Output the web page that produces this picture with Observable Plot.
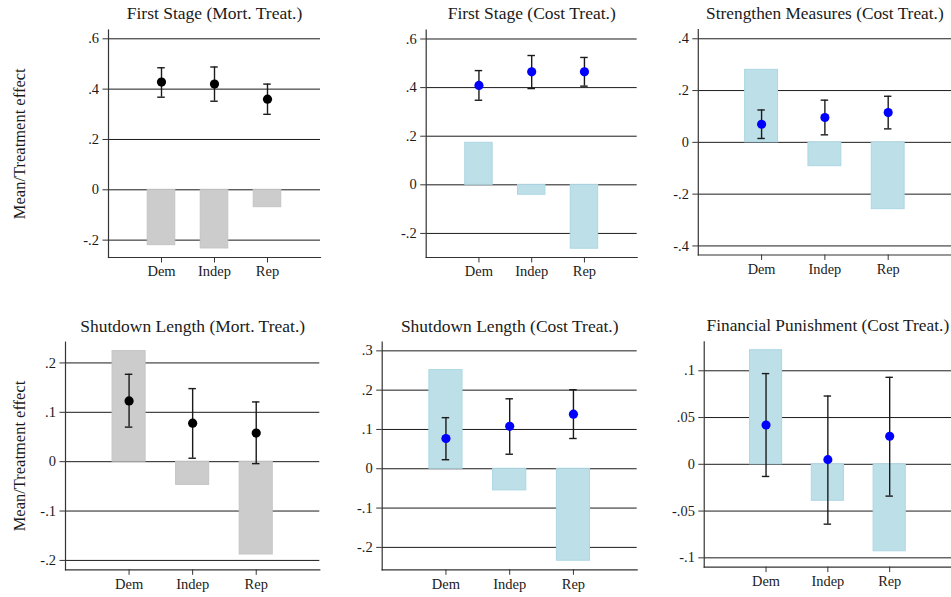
<!DOCTYPE html>
<html><head><meta charset="utf-8">
<script src="https://cdn.jsdelivr.net/npm/d3@7"></script>
<script src="https://cdn.jsdelivr.net/npm/@observablehq/plot@0.6"></script>
<style>
html,body{margin:0;padding:0;background:#fff;width:951px;height:597px;overflow:hidden;}
#root{position:relative;width:951px;height:597px;overflow:hidden;}
.panel{position:absolute;}
.panel svg text{font-family:'Liberation Serif','Times New Roman',Times,serif;}
</style></head><body><div id="root"></div>
<script>
// ---- data ----
const parties = ["Dem", "Indep", "Rep"];
const panelTitles = [
  "First Stage (Mort. Treat.)", "First Stage (Cost Treat.)", "Strengthen Measures (Cost Treat.)",
  "Shutdown Length (Mort. Treat.)", "Shutdown Length (Cost Treat.)", "Financial Punishment (Cost Treat.)"
];
const yTitle = "Mean/Treatment effect";

const fsMortBars  = [-0.220, -0.233, -0.069];
const fsMortMeans = [0.428, 0.420, 0.360];
const fsMortLo    = [0.368, 0.352, 0.300];
const fsMortHi    = [0.485, 0.488, 0.420];

const fsCostBars  = [0.173, -0.041, -0.263];
const fsCostMeans = [0.409, 0.465, 0.465];
const fsCostLo    = [0.348, 0.396, 0.406];
const fsCostHi    = [0.470, 0.532, 0.524];

const smCostBars  = [0.280, -0.092, -0.258];
const smCostMeans = [0.070, 0.096, 0.115];
const smCostLo    = [0.015, 0.029, 0.052];
const smCostHi    = [0.125, 0.163, 0.178];

const slMortBars  = [0.224, -0.047, -0.188];
const slMortMeans = [0.123, 0.078, 0.058];
const slMortLo    = [0.070, 0.007, -0.004];
const slMortHi    = [0.177, 0.148, 0.121];

const slCostBars  = [0.251, -0.055, -0.234];
const slCostMeans = [0.077, 0.108, 0.139];
const slCostLo    = [0.023, 0.037, 0.077];
const slCostHi    = [0.130, 0.178, 0.201];

const fpCostBars  = [0.122, -0.039, -0.093];
const fpCostMeans = [0.042, 0.005, 0.030];
const fpCostLo    = [-0.013, -0.064, -0.034];
const fpCostHi    = [0.097, 0.073, 0.093];

const ticksFS  = [-0.2, 0, 0.2, 0.4, 0.6];
const ticksSM  = [-0.4, -0.2, 0, 0.2, 0.4];
const ticksSLM = [-0.2, -0.1, 0, 0.1, 0.2];
const ticksSLC = [-0.2, -0.1, 0, 0.1, 0.2, 0.3];
const ticksFP  = [-0.1, -0.05, 0, 0.05, 0.1];

// ---- styling / layout ----
const FONT = "Liberation Serif, Times New Roman, Times, serif";
const grayBar = {fill: "#cccccc", stroke: "#c4c4c4"};
const blueBar = {fill: "#bddfe8", stroke: "#acd7e4"};

const panels = [
  {title: panelTitles[0], bars: fsMortBars, means: fsMortMeans, lo: fsMortLo, hi: fsMortHi, ticks: ticksFS,
   yDomain: [-0.269, 0.635], box: [108, 320, 29.5, 257], origin: [0, 0], dot: "#000000", bar: grayBar, ylab: true},
  {title: panelTitles[1], bars: fsCostBars, means: fsCostMeans, lo: fsCostLo, hi: fsCostHi, ticks: ticksFS,
   yDomain: [-0.299, 0.637], box: [425.7, 636.7, 29.5, 257], origin: [330, 0], dot: "#0000ff", bar: blueBar},
  {title: panelTitles[2], bars: smCostBars, means: smCostMeans, lo: smCostLo, hi: smCostHi, ticks: ticksSM,
   yDomain: [-0.435, 0.435], box: [698.3, 954, 29.5, 257], origin: [645, 0], dot: "#0000ff", bar: blueBar},
  {title: panelTitles[3], bars: slMortBars, means: slMortMeans, lo: slMortLo, hi: slMortHi, ticks: ticksSLM,
   yDomain: [-0.219, 0.242], box: [65, 319.3, 341.7, 569.3], origin: [0, 300], dot: "#000000", bar: grayBar, ylab: true},
  {title: panelTitles[4], bars: slCostBars, means: slCostMeans, lo: slCostLo, hi: slCostHi, ticks: ticksSLC,
   yDomain: [-0.257, 0.322], box: [381.7, 636.7, 341.7, 569.3], origin: [330, 300], dot: "#0000ff", bar: blueBar},
  {title: panelTitles[5], bars: fpCostBars, means: fpCostMeans, lo: fpCostLo, hi: fpCostHi, ticks: ticksFP,
   yDomain: [-0.110, 0.131], box: [704.3, 954, 341.7, 569.3], origin: [645, 300], dot: "#0000ff", bar: blueBar}
];

const stataFmt = d => d === 0 ? "0" : String(+d.toFixed(3)).replace(/^(-?)0\./, "$1.");
const INK = "#1a1a1a";
const root = document.getElementById("root");

for (const p of panels) {
  const [x0, x1, y0, y1] = p.box;
  const [ox, oy] = p.origin;
  const ml = x0 - ox, mt = y0 - oy;
  const W = x1 - ox, H = (y1 - oy) + 40;
  const rows = parties.map((c, i) => ({party: c, bar: p.bars[i], mean: p.means[i], lo: p.lo[i], hi: p.hi[i]}));
  const step = (x1 - x0) / 4;
  const bw = 0.52 * step;
  const capInset = (bw - 7.5) / 2;
  const marks = [
    Plot.gridY(p.ticks, {stroke: INK, strokeOpacity: 1, strokeWidth: 1}),
    Plot.barY(rows, {x: "party", y: "bar", fill: p.bar.fill, stroke: p.bar.stroke, strokeWidth: 1}),
    Plot.ruleX(rows, {x: "party", y1: "lo", y2: "hi", stroke: INK, strokeWidth: 1.4}),
    Plot.tickY(rows, {x: "party", y: "lo", insetLeft: capInset, insetRight: capInset, stroke: INK, strokeWidth: 1.4}),
    Plot.tickY(rows, {x: "party", y: "hi", insetLeft: capInset, insetRight: capInset, stroke: INK, strokeWidth: 1.4}),
    Plot.dot(rows, {x: "party", y: "mean", r: 4.6, fill: p.dot, stroke: "none"}),
    Plot.frame({anchor: "left", stroke: "#333", strokeWidth: 1.2}),
    Plot.frame({anchor: "bottom", stroke: "#333", strokeWidth: 1.2}),
    Plot.axisY(p.ticks, {tickFormat: stataFmt, tickSize: 5.5, tickPadding: 4, fontSize: 14.5, fontFamily: FONT,
      label: null, stroke: "#333", fill: INK}),
    Plot.axisX({tickSize: 5.5, tickPadding: 3, fontSize: 14.5, fontFamily: FONT, label: null, stroke: "#333", fill: INK}),
    Plot.text([p.title], {text: d => d, frameAnchor: "top", lineAnchor: "middle", textAnchor: "middle",
      dy: -16.3, fontSize: 17.5, fontFamily: FONT, fill: INK})
  ];
  if (p.ylab) {
    marks.push(Plot.text([yTitle], {text: d => d, frameAnchor: "left", lineAnchor: "middle", textAnchor: "middle",
      rotate: -90, dx: 19.3 - x0, fontSize: 16.5, fontFamily: FONT, fill: INK}));
  }
  const chart = Plot.plot({
    width: W, height: H,
    marginLeft: ml, marginTop: mt, marginRight: 0, marginBottom: 40,
    style: {fontFamily: FONT, fontSize: "14.5px", color: INK, background: "transparent", overflow: "visible"},
    x: {type: "band", domain: parties, paddingInner: 0.48, paddingOuter: 0.74, align: 0.5, round: false},
    y: {domain: p.yDomain},
    marks
  });
  const wrap = document.createElement("div");
  wrap.className = "panel";
  wrap.style.left = ox + "px";
  wrap.style.top = oy + "px";
  wrap.appendChild(chart);
  root.appendChild(wrap);
}
</script></body></html>
